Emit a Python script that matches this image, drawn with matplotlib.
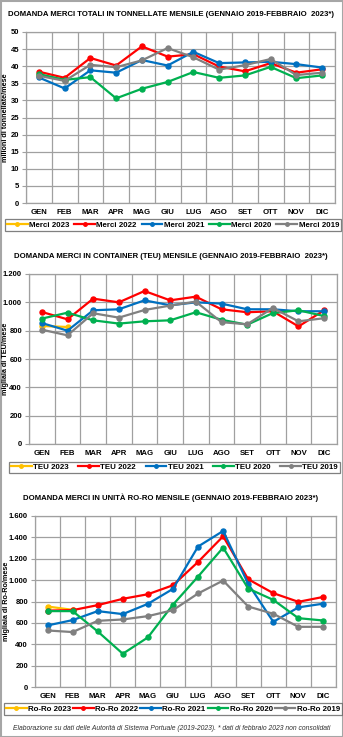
import matplotlib
matplotlib.use("Agg")
import matplotlib.pyplot as plt
from matplotlib.ticker import FuncFormatter, MultipleLocator
from matplotlib.patches import Rectangle

months = ["GEN", "FEB", "MAR", "APR", "MAG", "GIU", "LUG", "AGO", "SET", "OTT", "NOV", "DIC"]
years = ["2023", "2022", "2021", "2020", "2019"]
colors = ["#FFC000", "#FF0000", "#0070C0", "#00B050", "#808080"]

# Chart 1: milioni di tonnellate / mese
merci_2023 = [37.5, 36.0]
merci_2022 = [38.4, 36.6, 42.4, 40.2, 45.8, 42.8, 43.5, 39.9, 38.5, 40.9, 38.1, 39.1]
merci_2021 = [36.7, 33.5, 38.8, 38.1, 41.8, 40.2, 44.2, 40.9, 41.1, 41.3, 40.6, 39.6]
merci_2020 = [37.7, 36.0, 36.8, 30.6, 33.4, 35.4, 38.3, 36.6, 37.3, 39.8, 36.5, 37.3]
merci_2019 = [37.2, 35.7, 40.4, 39.7, 41.7, 45.3, 42.6, 39.0, 40.3, 42.1, 37.4, 38.1]

# Chart 2: migliaia di TEU / mese
teu_2023 = [833, 826]
teu_2022 = [932, 880, 1026, 1000, 1080, 1014, 1040, 951, 930, 937, 830, 944]
teu_2021 = [854, 800, 944, 951, 1014, 979, 1000, 991, 951, 951, 937, 937]
teu_2020 = [885, 927, 873, 850, 866, 873, 930, 877, 842, 924, 944, 903]
teu_2019 = [807, 767, 923, 892, 946, 977, 1005, 860, 845, 960, 866, 888]

# Chart 3: migliaia di Ro-Ro / mese
roro_2023 = [753, 722]
roro_2022 = [715, 719, 766, 825, 868, 952, 1170, 1410, 1008, 878, 797, 843]
roro_2021 = [576, 626, 710, 682, 778, 918, 1314, 1460, 965, 610, 745, 780]
roro_2020 = [710, 710, 520, 311, 464, 770, 1033, 1304, 921, 815, 644, 622]
roro_2019 = [529, 514, 619, 632, 663, 719, 875, 996, 753, 685, 563, 563]

titles = [
    "DOMANDA MERCI TOTALI IN TONNELLATE MENSILE (GENNAIO 2019-FEBBRAIO  2023*)",
    "DOMANDA MERCI IN CONTAINER (TEU) MENSILE (GENNAIO 2019-FEBBRAIO  2023*)",
    "DOMANDA MERCI IN UNITÀ RO-RO MENSILE (GENNAIO 2019-FEBBRAIO 2023*)",
]
ylabels = ["milioni di tonnellate/mese", "migliaia di TEU/mese", "migliaia di Ro-Ro/mese"]
prefixes = ["Merci", "TEU", "Ro-Ro"]
footnote = "Elaborazione su dati delle Autorità di Sistema Portuale (2019-2023). * dati di febbraio 2023 non consolidati"

datasets = [
    [merci_2023, merci_2022, merci_2021, merci_2020, merci_2019],
    [teu_2023, teu_2022, teu_2021, teu_2020, teu_2019],
    [roro_2023, roro_2022, roro_2021, roro_2020, roro_2019],
]
ylims = [(0, 50, 5), (0, 1200, 200), (0, 1600, 200)]

W, H = 343, 737
plt.rcParams['font.family'] = ['Liberation Sans', 'DejaVu Sans']
fig = plt.figure(figsize=(W / 100, H / 100), dpi=100)
fig.patch.set_facecolor("white")
fig.add_artist(Rectangle((0.5 / W, 0.5 / H), 1 - 1.0 / W, 1 - 1.0 / H, transform=fig.transFigure,
                         fill=False, edgecolor="#A6A6A6", linewidth=1.5))

# pixel boxes: (left, right, top, bottom)
boxes = [(26, 335, 32, 203), (29, 337, 274, 444), (35, 336, 516, 687)]
title_y = [15, 256, 498]
title_x = [171, 171, 171]
legend_boxes = [(5, 341, 217, 233), (9, 340, 460, 475), (4, 342, 702, 716)]
ylabel_x = [6, 6, 7]

grid_c = "#A0A0A0"
fmt = FuncFormatter(lambda v, p: f"{int(v):,}".replace(",", "."))

for k in range(3):
    l, r, t, b = boxes[k]
    ax = fig.add_axes([l / W, 1 - b / H, (r - l) / W, (b - t) / H])
    ymin, ymax, step = ylims[k]
    ax.set_ylim(ymin, ymax)
    ax.set_xlim(-0.5, 11.5)
    ax.yaxis.set_major_locator(MultipleLocator(step))
    ax.yaxis.set_major_formatter(fmt)
    ax.set_xticks(range(12))
    ax.set_xticklabels(months, fontsize=5.6, fontweight="bold")
    ax.set_xticks([i - 0.5 for i in range(13)], minor=True)
    ax.grid(True, axis="y", which="major", color=grid_c, linewidth=0.9)
    ax.grid(True, axis="x", which="minor", color=grid_c, linewidth=0.9)
    ax.tick_params(axis="x", which="both", length=0, pad=4)
    ax.tick_params(axis="y", length=3, color=grid_c, labelsize=5.5, pad=2)
    for lab in ax.get_yticklabels():
        lab.set_fontweight("bold")
    for s in ax.spines.values():
        s.set_color(grid_c)
        s.set_linewidth(0.9)
    ax.set_axisbelow(True)

    handles = []
    for data, c, yr in zip(datasets[k], colors, years):
        h, = ax.plot(range(len(data)), data, color=c, linewidth=1.6, marker="o",
                     markersize=3.6, label=f"{prefixes[k]} {yr}", zorder=3)
        handles.append(h)

    fig.text(title_x[k] / W, 1 - title_y[k] / H, titles[k], ha="center", va="center",
             fontsize=5.6, fontweight="bold")
    fig.text(ylabel_x[k] / W, 1 - ((t + b) / 2) / H, ylabels[k], rotation=90,
             ha="center", va="center", fontsize=5.2, fontweight="bold")

    lx0, lx1, ly0, ly1 = legend_boxes[k]
    leg = fig.legend(handles, [h.get_label() for h in handles], ncol=5, loc="center",
                     bbox_to_anchor=(lx0 / W, 1 - ly1 / H, (lx1 - lx0) / W, (ly1 - ly0) / H),
                     bbox_transform=fig.transFigure, mode="expand", fancybox=False,
                     frameon=True, edgecolor="#606060", handlelength=2.6, handletextpad=0.2,
                     columnspacing=0.6, borderpad=0.25, borderaxespad=0,
                     prop={"size": 5.7, "weight": "bold"}, markerscale=0.7)
    leg.get_frame().set_linewidth(0.9)

fig.text(0.5, 1 - 728 / H, footnote, ha="center", va="center", fontsize=4.9,
         style="italic", color="#303030")

fig.savefig("out.png", dpi=100, facecolor="white")
